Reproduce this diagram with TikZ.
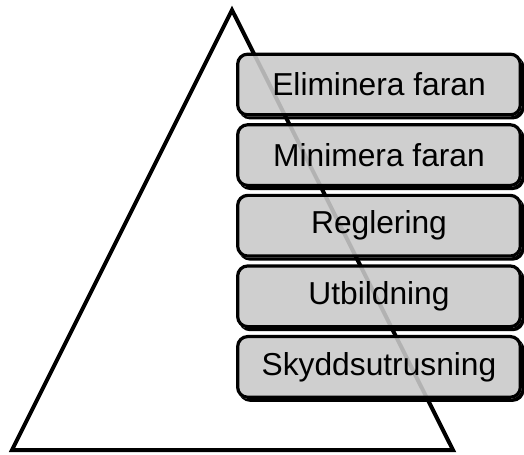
\documentclass[tikz,border=0pt]{standalone}
\usepackage{fontspec}
\setmainfont{Liberation Sans}
\definecolor{boxfill}{gray}{0.79}
\begin{document}
\begin{tikzpicture}[x=0.75pt,y=-0.75pt,
  level/.style={draw=black, line width=2.4pt, rounded corners=7.5pt,
    fill=boxfill, fill opacity=0.89, text opacity=1,
    minimum width=212pt, minimum height=45.5pt, inner sep=0pt,
    font=\fontsize{23.8pt}{28pt}\selectfont}]
\useasboundingbox (0,0) rectangle (524,454);
% the hazard triangle
\coordinate (apex) at (232,10);
\coordinate (bl) at (12,450);
\coordinate (br) at (453,450);
\draw[line width=3pt, line join=miter] (apex) -- (bl) -- (br) -- cycle;
% control levels
\node[level] (l1) at (379,84.5) {Eliminera faran};
\node[level] (l2) at (379,155.1) {Minimera faran};
\node[level] (l3) at (379,225.7) {Reglering};
\node[level] (l4) at (379,296.3) {Utbildning};
\node[level] (l5) at (379,366.9) {Skyddsutrusning};
% drop shadows, kept outside each level's outline
\foreach \n in {l1,l2,l3,l4,l5}{
  \begin{scope}[even odd rule]
    \clip (0,0) rectangle (524,454)
      [rounded corners=8.7pt] (\n.north west) rectangle (\n.south east);
    \fill[black, rounded corners=8.7pt]
      ([shift={(2.5,3)}]\n.north west) rectangle ([shift={(2.5,3)}]\n.south east);
  \end{scope}
}
\end{tikzpicture}
\end{document}
